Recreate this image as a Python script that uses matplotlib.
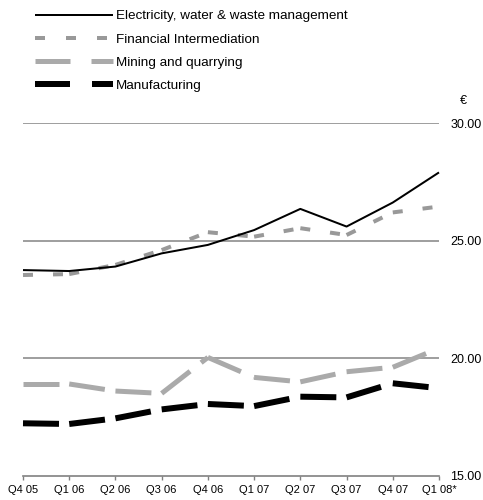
import matplotlib
matplotlib.use("Agg")
import matplotlib.pyplot as plt
from matplotlib.lines import Line2D

plt.rcParams['font.family'] = ['Liberation Sans', 'DejaVu Sans']
plt.rcParams['lines.scale_dashes'] = False

quarters = ["Q4 05", "Q1 06", "Q2 06", "Q3 06", "Q4 06", "Q1 07", "Q2 07", "Q3 07", "Q4 07", "Q1 08*"]
electricity = [23.75, 23.71, 23.90, 24.46, 24.82, 25.45, 26.35, 25.60, 26.62, 27.90]
financial = [23.54, 23.58, 23.97, 24.60, 25.36, 25.17, 25.53, 25.24, 26.20, 26.45]
mining = [18.91, 18.91, 18.61, 18.51, 20.04, 19.19, 19.00, 19.43, 19.62, 20.43]
manufacturing = [17.24, 17.21, 17.45, 17.83, 18.06, 17.97, 18.37, 18.34, 18.94, 18.73]
series_names = ["Electricity, water & waste management", "Financial Intermediation",
                "Mining and quarrying", "Manufacturing"]
yticks = [15, 20, 25, 30]

W, H = 483, 500
fig = plt.figure(figsize=(W / 100, H / 100), dpi=100)
ax = fig.add_axes([23 / W, 1 - 476 / H, (439 - 23) / W, (476 - 123) / H])

PX = 0.72  # points per pixel
x = list(range(len(quarters)))

# gridlines
for v in yticks[1:]:
    ax.axhline(v, color="#a0a0a0", lw=2 * PX, zorder=1)

def seg_plot(vals, color, lw_px, on_px, off_px, z):
    for i in range(len(vals) - 1):
        ax.plot(x[i:i + 2], vals[i:i + 2], color=color, lw=lw_px * PX,
                linestyle=(0, (on_px * PX, off_px * PX)), dash_capstyle="butt",
                solid_capstyle="butt", clip_on=False, zorder=z)

seg_plot(mining, "#aaaaaa", 5, 36, 14, 3)
seg_plot(manufacturing, "#000000", 6, 36, 13, 4)
seg_plot(financial, "#999999", 4, 10, 20, 3)
ax.plot(x, electricity, color="black", lw=2 * PX, solid_capstyle="butt", clip_on=False, zorder=5)

ax.set_xlim(0, len(quarters) - 1)
ax.set_ylim(15, 30)
ax.set_xticks(x)
ax.set_xticklabels(quarters, fontsize=8)
ax.set_yticks(yticks)
ax.set_yticklabels([f"{v:.2f}" for v in yticks], fontsize=9)
ax.yaxis.tick_right()
ax.tick_params(axis="y", length=0, pad=8)
ax.tick_params(axis="x", length=3, width=1, color="#808080", pad=3.5, direction="out")
for s in ["top", "left", "right"]:
    ax.spines[s].set_visible(False)
ax.spines["bottom"].set_color("#808080")
ax.spines["bottom"].set_linewidth(1.2)
ax.patch.set_visible(False)

fig.text(463 / W, 1 - 101 / H, "€", fontsize=9, ha="center", va="center")

handles = [
    Line2D([], [], color="black", lw=2 * PX, solid_capstyle="butt"),
    Line2D([], [], color="#999999", lw=4 * PX, linestyle=(0, (10 * PX, 21 * PX)), dash_capstyle="butt"),
    Line2D([], [], color="#aaaaaa", lw=5 * PX, linestyle=(0, (35 * PX, 21 * PX)), dash_capstyle="butt"),
    Line2D([], [], color="black", lw=6 * PX, linestyle=(0, (35 * PX, 22 * PX)), dash_capstyle="butt"),
]
fig.legend(handles, series_names, loc="upper left", bbox_to_anchor=(35 / W, 1 - 10 / H),
           frameon=False, fontsize=9.7, handlelength=5.8, handletextpad=0.2,
           labelspacing=0.8, borderpad=0, borderaxespad=0)

fig.savefig("out.png", dpi=100)
